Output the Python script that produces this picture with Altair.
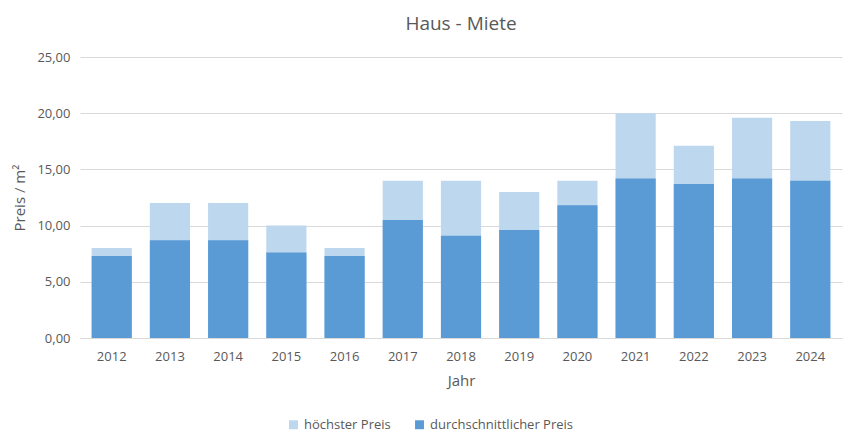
import altair as alt
import pandas as pd

years = ["2012", "2013", "2014", "2015", "2016", "2017", "2018", "2019", "2020", "2021", "2022", "2023", "2024"]
max_price = [8.0, 12.0, 12.0, 10.0, 8.0, 14.0, 14.0, 13.0, 14.0, 20.0, 17.1, 19.6, 19.3]
avg_price = [7.3, 8.7, 8.7, 7.6, 7.3, 10.5, 9.1, 9.6, 11.8, 14.2, 13.7, 14.2, 14.0]
series = ["höchster Preis", "durchschnittlicher Preis"]
colors = ["#bdd7ee", "#5b9bd5"]

rows = []
for y, v in zip(years, max_price):
    rows.append({"Jahr": y, "Serie": series[0], "Wert": v, "o": 0})
for y, v in zip(years, avg_price):
    rows.append({"Jahr": y, "Serie": series[1], "Wert": v, "o": 1})
df = pd.DataFrame(rows)

FONT = "Open Sans"
GREY = "#595959"

chart = alt.Chart(df).mark_bar().encode(
    x=alt.X("Jahr:N", title="Jahr", sort=years,
            scale=alt.Scale(paddingInner=0.31, paddingOuter=0.2),
            axis=alt.Axis(labelAngle=0, ticks=False, labelPadding=12, titlePadding=10,
                          domainColor="#d9d9d9", labelColor=GREY, titleColor=GREY,
                          labelFontSize=13, titleFontSize=15, titleFontWeight="normal",
                          labelFont=FONT, titleFont=FONT)),
    y=alt.Y("Wert:Q", title="Preis / m²", stack=None,
            scale=alt.Scale(domain=[0, 25]),
            axis=alt.Axis(values=[0, 5, 10, 15, 20, 25], ticks=False, domain=False,
                          labelExpr="replace(format(datum.value, '.2f'), '.', ',')",
                          gridColor="#d9d9d9", labelPadding=10, titlePadding=9,
                          labelColor=GREY, titleColor=GREY, labelFontSize=13,
                          titleFontSize=15, titleFontWeight="normal",
                          labelFont=FONT, titleFont=FONT)),
    color=alt.Color("Serie:N", scale=alt.Scale(domain=series, range=colors),
                    legend=alt.Legend(title=None, orient="none", direction="horizontal",
                                      legendX=207, legendY=361, symbolType="square",
                                      symbolSize=80, symbolStrokeWidth=0,
                                      labelFontSize=13, labelColor=GREY, labelFont=FONT,
                                      columnPadding=22)),
    order=alt.Order("o:Q"),
).properties(
    width=762, height=281,
    title=alt.TitleParams("Haus - Miete", fontSize=19, font=FONT, color=GREY,
                          fontWeight="normal", anchor="middle", offset=17),
    autosize=alt.AutoSizeParams(type="none"),
    padding={"left": 80, "top": 57, "right": 7, "bottom": 105},
).configure_view(stroke=None)

chart.save("out.html", embed_options={"renderer": "svg", "actions": False})
